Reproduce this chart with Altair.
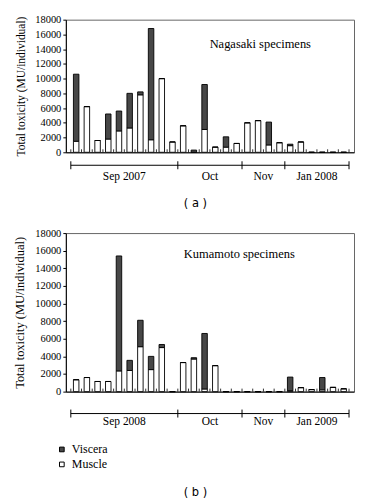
import altair as alt
import pandas as pd

# ---- data ----
muscle_a = [1500, 6200, 1600, 1800, 2900, 3300, 7800, 1700, 10000, 1400,
            3600, 0, 3100, 700, 700, 1200,
            4000, 4300, 1000, 1300,
            900, 1400, 0, 0, 0, 0]
viscera_a = [9100, 0, 0, 3400, 2700, 4700, 400, 15100, 0, 0,
             0, 300, 6100, 0, 1400, 0,
             0, 0, 3100, 0,
             200, 0, 0, 0, 0, 0]
muscle_b = [1350, 1600, 1150, 1150, 2350, 2400, 5100, 2500, 5000, 0,
            3300, 3700, 300, 2950, 0, 0,
            0, 0, 0, 0,
            100, 450, 230, 200, 480, 320]
viscera_b = [0, 0, 0, 0, 13050, 1150, 3000, 1500, 350, 0,
             0, 150, 6300, 0, 0, 0,
             0, 0, 0, 0,
             1550, 0, 0, 1400, 0, 0]
month_bounds = [0, 10, 16, 20, 26]
months_a = ["Sep 2007", "Oct", "Nov", "Jan 2008"]
months_b = ["Sep 2008", "Oct", "Nov", "Jan 2009"]
y_ticks = list(range(0, 18001, 2000))
parts = ["Viscera", "Muscle"]
part_colors = ["#474747", "#ffffff"]

SERIF = "Liberation Serif"
W = 289
NSLOT = len(muscle_a)


def bars_df(muscle, viscera):
    rows = []
    for k, (m, v) in enumerate(zip(muscle, viscera)):
        rows.append(dict(pos=k + 0.5, part="Muscle", value=m, order=0))
        rows.append(dict(pos=k + 0.5, part="Viscera", value=v, order=1))
    return pd.DataFrame(rows)


def panel(muscle, viscera, months, title, title_x, title_y, caption, H,
          bracket_y, label_y, caption_y, ytitle_size, show_legend):
    if show_legend:
        legend = alt.Legend(orient="none", legendX=-10, legendY=211, title=None,
                            symbolType="square", symbolSize=22,
                            symbolStrokeColor="black", symbolStrokeWidth=1,
                            labelFont=SERIF, labelFontSize=12, labelColor="black",
                            rowPadding=3)
    else:
        legend = None
    bars = alt.Chart(bars_df(muscle, viscera)).mark_bar(
        size=5.5, stroke="black", strokeWidth=0.9
    ).encode(
        x=alt.X("pos:Q", scale=alt.Scale(domain=[0, NSLOT], nice=False, zero=False),
                axis=alt.Axis(labels=False, ticks=False, grid=False, title=None,
                              domainColor="black", domainWidth=1)),
        y=alt.Y("value:Q", stack="zero",
                scale=alt.Scale(domain=[0, 18000], nice=False),
                axis=alt.Axis(values=y_ticks, format="d", grid=False,
                              title="Total toxicity (MU/individual)",
                              titleFont=SERIF, titleFontWeight="normal",
                              titleFontSize=ytitle_size, titleColor="black",
                              titlePadding=8,
                              labelFont=SERIF, labelFontSize=10.5, labelColor="black",
                              labelPadding=2, tickSize=3, tickColor="black",
                              domainColor="black")),
        fill=alt.Fill("part:N", scale=alt.Scale(domain=parts, range=part_colors),
                      legend=legend),
        order=alt.Order("order:Q"),
    )

    slot_df = pd.DataFrame({"pos": list(range(NSLOT + 1))})
    slot_ticks = alt.Chart(slot_df).mark_rule(color="black", strokeWidth=0.8).encode(
        x="pos:Q", y=alt.value(H), y2=alt.value(H - 3))

    line_df = pd.DataFrame({"pos": [month_bounds[0]], "pos2": [month_bounds[-1]]})
    bracket = alt.Chart(line_df).mark_rule(color="black", strokeWidth=1).encode(
        x="pos:Q", x2="pos2:Q", y=alt.value(bracket_y))
    bound_df = pd.DataFrame({"pos": month_bounds})
    bticks = alt.Chart(bound_df).mark_rule(color="black", strokeWidth=1).encode(
        x="pos:Q", y=alt.value(bracket_y - 4), y2=alt.value(bracket_y + 4))
    lab_df = pd.DataFrame({
        "pos": [(a + b) / 2 for a, b in zip(month_bounds[:-1], month_bounds[1:])],
        "label": months})
    labels = alt.Chart(lab_df).mark_text(font=SERIF, fontSize=11.5, color="black").encode(
        x="pos:Q", y=alt.value(label_y), text="label:N")

    ttl = alt.Chart(pd.DataFrame({"t": [title]})).mark_text(
        font=SERIF, fontSize=12.5, color="black").encode(
        x=alt.value(title_x), y=alt.value(title_y), text="t:N")
    cap = alt.Chart(pd.DataFrame({"t": [caption]})).mark_text(
        font="DejaVu Sans", fontSize=11.5, color="black").encode(
        x=alt.value(130), y=alt.value(caption_y), text="t:N")

    return alt.layer(bars, slot_ticks, bracket, bticks, labels, ttl, cap).properties(
        width=W, height=H)


pa = panel(muscle_a, viscera_a, months_a, "Nagasaki specimens", 195, 24, "( a )",
           133, 146, 158, 185, 11.5, False)
pb = panel(muscle_b, viscera_b, months_b, "Kumamoto specimens", 174, 21, "( b )",
           159, 181, 189, 261, 12.5, True)

chart = alt.vconcat(pa, pb, spacing=17).resolve_scale(fill="independent").resolve_legend(
    fill="independent").configure_view(stroke="#666", strokeWidth=1)

chart.save("out.html", embed_options={"renderer": "svg", "actions": False})
